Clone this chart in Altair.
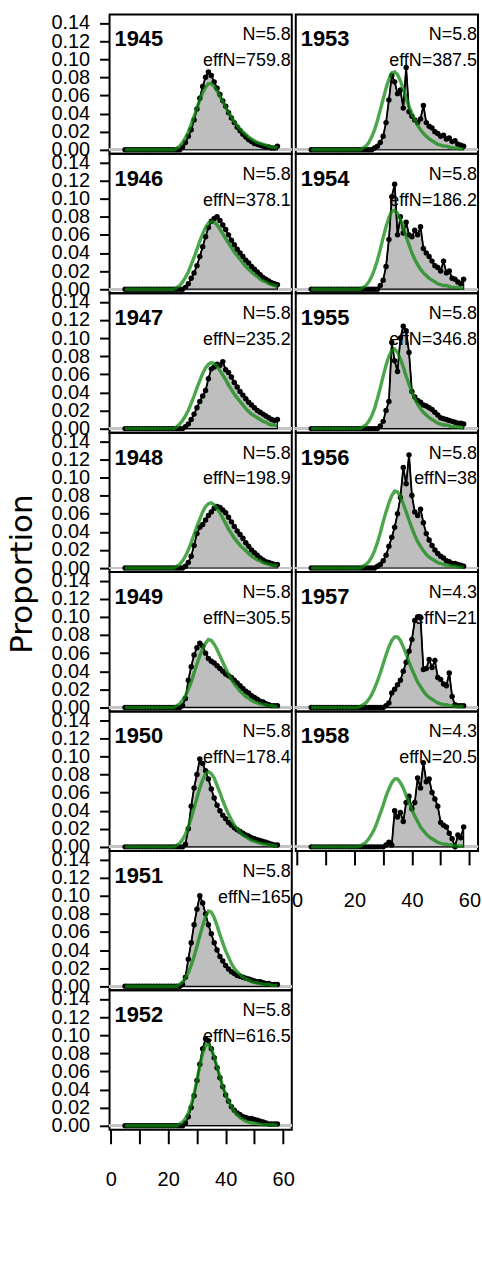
import altair as alt
import pandas as pd

# length bins (cm)
lengths = list(range(5, 59))

years_left = [1945, 1946, 1947, 1948, 1949, 1950, 1951, 1952]
years_right = [1953, 1954, 1955, 1956, 1957, 1958]
n_labels = {1945: "N=5.8", 1946: "N=5.8", 1947: "N=5.8", 1948: "N=5.8", 1949: "N=5.8",
            1950: "N=5.8", 1951: "N=5.8", 1952: "N=5.8", 1953: "N=5.8", 1954: "N=5.8",
            1955: "N=5.8", 1956: "N=5.8", 1957: "N=4.3", 1958: "N=4.3"}
effn_labels = {1945: "effN=759.8", 1946: "effN=378.1", 1947: "effN=235.2", 1948: "effN=198.9",
               1949: "effN=305.5", 1950: "effN=178.4", 1951: "effN=165", 1952: "effN=616.5",
               1953: "effN=387.5", 1954: "effN=186.2", 1955: "effN=346.8", 1956: "effN=38",
               1957: "effN=21", 1958: "effN=20.5"}
y_title = ["Proportion"]

# rows of 10 bins: 5-14, 15-24, 25-34, 35-44, 45-54, 55-58
obs_1945 = [0, 0, 0, 0, 0, 0, 0, 0, 0, 0,
            0, 0, 0, 0, 0, 0, 0, 0, 0, 0,
            .003, .008, .015, .022, .033, .045, .057, .070, .080, .086,
            .082, .075, .068, .061, .054, .048, .041, .035, .030, .025,
            .021, .017, .014, .011, .009, .007, .006, .005, .004, .003,
            .003, .002, .002, .004]
exp_1945 = [0, 0, 0, 0, 0, 0, 0, 0, 0, 0,
            0, 0, 0, 0, 0, 0, 0, 0, .002, .004,
            .008, .013, .020, .028, .037, .046, .055, .063, .069, .073,
            .073, .070, .065, .059, .053, .047, .041, .036, .031, .027,
            .023, .020, .017, .014, .012, .010, .008, .007, .006, .005,
            .004, .003, .003, .002]
obs_1946 = [0, 0, 0, 0, 0, 0, 0, 0, 0, 0,
            0, 0, 0, 0, 0, 0, 0, 0, 0, 0,
            0, .002, .006, .012, .018, .026, .036, .047, .058, .068,
            .075, .078, .080, .076, .071, .066, .060, .054, .049, .044,
            .040, .036, .032, .029, .025, .022, .019, .016, .013, .011,
            .009, .007, .006, .005]
exp_1946 = [0, 0, 0, 0, 0, 0, 0, 0, 0, 0,
            0, 0, 0, 0, 0, 0, 0, 0, .002, .004,
            .008, .013, .019, .027, .035, .044, .053, .061, .068, .073,
            .075, .074, .071, .066, .061, .056, .051, .046, .041, .037,
            .033, .029, .025, .022, .019, .016, .014, .011, .009, .008,
            .006, .005, .004, .003]
obs_1947 = [0, 0, 0, 0, 0, 0, 0, 0, 0, 0,
            0, 0, 0, 0, 0, 0, 0, 0, 0, 0,
            0, .002, .005, .010, .016, .023, .030, .036, .042, .055,
            .066, .068, .071, .070, .074, .065, .062, .057, .051, .046,
            .041, .037, .033, .029, .026, .023, .020, .018, .016, .014,
            .012, .010, .009, .010]
exp_1947 = [0, 0, 0, 0, 0, 0, 0, 0, 0, 0,
            0, 0, 0, 0, 0, 0, 0, 0, .002, .005,
            .009, .014, .020, .028, .036, .045, .053, .061, .067, .071,
            .073, .072, .069, .064, .059, .054, .048, .043, .038, .034,
            .030, .026, .022, .019, .016, .014, .012, .010, .008, .007,
            .005, .004, .004, .003]
obs_1948 = [0, 0, 0, 0, 0, 0, 0, 0, 0, 0,
            0, 0, 0, 0, 0, 0, 0, 0, 0, 0,
            0, .002, .006, .013, .025, .038, .045, .048, .053, .058,
            .062, .066, .068, .067, .064, .061, .056, .051, .046, .041,
            .037, .033, .028, .024, .020, .017, .014, .011, .009, .007,
            .006, .005, .004, .004]
exp_1948 = [0, 0, 0, 0, 0, 0, 0, 0, 0, 0,
            0, 0, 0, 0, 0, 0, 0, 0, .002, .004,
            .008, .013, .020, .028, .037, .046, .054, .062, .068, .071,
            .072, .070, .066, .061, .055, .049, .043, .038, .033, .029,
            .025, .022, .019, .016, .013, .011, .009, .008, .006, .005,
            .004, .003, .003, .002]
obs_1949 = [0, 0, 0, 0, 0, 0, 0, 0, 0, 0,
            0, 0, 0, 0, 0, 0, 0, 0, 0, 0,
            .002, .010, .030, .045, .058, .066, .071, .068, .060, .054,
            .051, .049, .046, .043, .040, .037, .035, .033, .030, .027,
            .024, .021, .018, .016, .013, .011, .009, .007, .006, .004,
            .003, .002, .002, .002]
exp_1949 = [0, 0, 0, 0, 0, 0, 0, 0, 0, 0,
            0, 0, 0, 0, 0, 0, 0, 0, .002, .004,
            .008, .013, .020, .028, .038, .048, .057, .065, .071, .075,
            .074, .070, .064, .057, .050, .043, .037, .031, .026, .022,
            .018, .015, .012, .010, .008, .006, .005, .004, .003, .003,
            .002, .002, .001, .001]
obs_1950 = [0, 0, 0, 0, 0, 0, 0, 0, 0, 0,
            0, 0, 0, 0, 0, 0, 0, 0, 0, 0,
            0, .003, .020, .045, .065, .080, .097, .092, .084, .075,
            .064, .054, .046, .040, .035, .031, .027, .024, .021, .019,
            .017, .015, .013, .012, .010, .009, .008, .007, .006, .005,
            .004, .003, .002, .002]
exp_1950 = [0, 0, 0, 0, 0, 0, 0, 0, 0, 0,
            0, 0, 0, 0, 0, 0, 0, 0, .002, .004,
            .008, .014, .022, .032, .043, .054, .065, .074, .081, .083,
            .081, .076, .068, .060, .051, .043, .036, .030, .024, .020,
            .016, .013, .011, .009, .007, .006, .005, .004, .003, .003,
            .002, .002, .001, .001]
obs_1951 = [0, 0, 0, 0, 0, 0, 0, 0, 0, 0,
            0, 0, 0, 0, 0, 0, 0, 0, 0, 0,
            .002, .010, .030, .048, .068, .085, .100, .092, .080, .068,
            .058, .048, .040, .033, .028, .023, .019, .016, .014, .012,
            .011, .010, .009, .008, .007, .006, .005, .005, .004, .003,
            .003, .002, .002, .002]
exp_1951 = [0, 0, 0, 0, 0, 0, 0, 0, 0, 0,
            0, 0, 0, 0, 0, 0, 0, 0, 0, .002,
            .005, .009, .015, .023, .033, .044, .056, .067, .077, .083,
            .082, .076, .067, .057, .048, .039, .032, .025, .020, .016,
            .013, .010, .008, .007, .005, .004, .004, .003, .002, .002,
            .002, .001, .001, .001]
obs_1952 = [0, 0, 0, 0, 0, 0, 0, 0, 0, 0,
            0, 0, 0, 0, 0, 0, 0, 0, 0, 0,
            0, .003, .010, .020, .033, .050, .068, .085, .096, .094,
            .085, .075, .064, .053, .043, .034, .027, .021, .017, .014,
            .012, .010, .009, .008, .008, .007, .006, .005, .004, .003,
            .002, .002, .002, .002]
exp_1952 = [0, 0, 0, 0, 0, 0, 0, 0, 0, 0,
            0, 0, 0, 0, 0, 0, 0, 0, 0, .002,
            .004, .008, .014, .023, .035, .050, .066, .080, .089, .090,
            .085, .076, .065, .054, .043, .034, .027, .021, .016, .012,
            .009, .007, .005, .004, .003, .003, .002, .002, .001, .001,
            .001, .001, .001, 0]
obs_1953 = [0, 0, 0, 0, 0, 0, 0, 0, 0, 0,
            0, 0, 0, 0, 0, 0, 0, 0, 0, 0,
            0, 0, .002, .004, .008, .015, .030, .055, .082, .075,
            .062, .066, .046, .091, .042, .037, .033, .030, .034, .049,
            .030, .026, .024, .020, .018, .015, .016, .012, .013, .009,
            .010, .006, .005, .004]
exp_1953 = [0, 0, 0, 0, 0, 0, 0, 0, 0, 0,
            0, 0, 0, 0, 0, 0, 0, 0, .002, .004,
            .008, .014, .022, .032, .044, .056, .068, .078, .085, .086,
            .083, .076, .067, .057, .048, .040, .033, .027, .022, .018,
            .015, .012, .010, .008, .006, .005, .004, .004, .003, .002,
            .002, .002, .001, .001]
obs_1954 = [0, 0, 0, 0, 0, 0, 0, 0, 0, 0,
            0, 0, 0, 0, 0, 0, 0, 0, 0, 0,
            0, 0, 0, 0, .004, .010, .025, .055, .102, .116,
            .060, .080, .062, .074, .060, .058, .065, .060, .069, .045,
            .040, .036, .031, .026, .024, .020, .031, .018, .020, .012,
            .011, .008, .006, .011]
exp_1954 = [0, 0, 0, 0, 0, 0, 0, 0, 0, 0,
            0, 0, 0, 0, 0, 0, 0, 0, .002, .004,
            .008, .014, .022, .032, .044, .057, .069, .079, .086, .087,
            .084, .077, .068, .058, .049, .040, .033, .027, .022, .018,
            .015, .012, .010, .008, .006, .005, .004, .004, .003, .002,
            .002, .002, .001, .001]
obs_1955 = [0, 0, 0, 0, 0, 0, 0, 0, 0, 0,
            0, 0, 0, 0, 0, 0, 0, 0, 0, 0,
            0, 0, 0, 0, .003, .008, .020, .030, .095, .075,
            .063, .100, .113, .108, .084, .041, .035, .031, .029, .026,
            .025, .023, .021, .018, .015, .012, .011, .010, .009, .008,
            .007, .006, .006, .005]
exp_1955 = [0, 0, 0, 0, 0, 0, 0, 0, 0, 0,
            0, 0, 0, 0, 0, 0, 0, 0, .002, .004,
            .008, .014, .022, .033, .045, .058, .070, .080, .086, .088,
            .084, .077, .068, .058, .049, .040, .033, .027, .022, .018,
            .015, .012, .010, .008, .006, .005, .004, .004, .003, .002,
            .002, .002, .001, .001]
obs_1956 = [0, 0, 0, 0, 0, 0, 0, 0, 0, 0,
            0, 0, 0, 0, 0, 0, 0, 0, 0, 0,
            0, 0, 0, .002, .004, .008, .014, .024, .034, .045,
            .060, .078, .111, .093, .125, .080, .062, .058, .065, .050,
            .038, .031, .025, .020, .016, .013, .011, .008, .007, .005,
            .005, .004, .003, .002]
exp_1956 = [0, 0, 0, 0, 0, 0, 0, 0, 0, 0,
            0, 0, 0, 0, 0, 0, 0, 0, .002, .004,
            .007, .012, .019, .028, .039, .051, .062, .072, .080, .085,
            .084, .079, .071, .062, .053, .044, .036, .029, .024, .019,
            .015, .012, .010, .008, .006, .005, .004, .003, .003, .002,
            .002, .001, .001, .001]
obs_1957 = [0, 0, 0, 0, 0, 0, 0, 0, 0, 0,
            0, 0, 0, 0, 0, 0, 0, 0, 0, 0,
            0, 0, 0, 0, 0, 0, .002, .005, .016, .020,
            .025, .030, .040, .050, .062, .075, .096, .100, .099, .042,
            .043, .053, .044, .052, .033, .031, .026, .024, .038, .012,
            .003, .002, .002, .002]
exp_1957 = [0, 0, 0, 0, 0, 0, 0, 0, 0, 0,
            0, 0, 0, 0, 0, 0, 0, .001, .003, .005,
            .009, .014, .021, .029, .038, .048, .058, .067, .074, .078,
            .078, .074, .067, .059, .050, .042, .035, .028, .023, .018,
            .014, .011, .009, .007, .005, .004, .003, .003, .002, .002,
            .001, .001, .001, .001]
obs_1958 = [0, 0, 0, 0, 0, 0, 0, 0, 0, 0,
            0, 0, 0, 0, 0, 0, 0, 0, 0, 0,
            0, 0, 0, 0, 0, 0, .002, .005, .002, .040,
            .033, .038, .028, .049, .056, .042, .049, .076, .065, .093,
            .072, .075, .060, .053, .045, .027, .024, .022, .015, .009,
            .000, .013, .010, .022]
exp_1958 = [0, 0, 0, 0, 0, 0, 0, 0, 0, 0,
            0, 0, 0, 0, 0, 0, 0, .001, .003, .005,
            .009, .014, .020, .028, .037, .046, .056, .064, .071, .075,
            .075, .071, .065, .057, .049, .041, .034, .028, .022, .018,
            .014, .011, .009, .007, .005, .004, .003, .003, .002, .002,
            .001, .001, .001, .001]

observed = {1945: obs_1945, 1946: obs_1946, 1947: obs_1947, 1948: obs_1948,
            1949: obs_1949, 1950: obs_1950, 1951: obs_1951, 1952: obs_1952,
            1953: obs_1953, 1954: obs_1954, 1955: obs_1955, 1956: obs_1956,
            1957: obs_1957, 1958: obs_1958}
expected = {1945: exp_1945, 1946: exp_1946, 1947: exp_1947, 1948: exp_1948,
            1949: exp_1949, 1950: exp_1950, 1951: exp_1951, 1952: exp_1952,
            1953: exp_1953, 1954: exp_1954, 1955: exp_1955, 1956: exp_1956,
            1957: exp_1957, 1958: exp_1958}

y_ticks = [0.0, 0.02, 0.04, 0.06, 0.08, 0.10, 0.12, 0.14]
x_ticks = [0, 10, 20, 30, 40, 50, 60]

W, H = 183, 140
FONT = "Liberation Sans"
GREEN = "#108810"
FILL = "#bebebe"

xscale = alt.Scale(domain=[-0.4, 63], nice=False, zero=False)
yscale = alt.Scale(domain=[-0.0045, 0.1495], nice=False, zero=False)

xaxis = alt.Axis(values=x_ticks, labelExpr="datum.value % 20 == 0 ? datum.label : ''",
                 tickSize=14, tickWidth=2, tickColor="black", domain=False, grid=False,
                 labelPadding=26, labelFontSize=20, labelFont=FONT, labelColor="black",
                 labelFlush=False, labelOverlap=False, title=None)
yaxis = alt.Axis(values=y_ticks, format=".2f", tickSize=10, tickWidth=2, tickColor="black",
                 domain=False, grid=False, labelPadding=10, labelFontSize=20, labelFont=FONT,
                 labelColor="black", labelOverlap=False, labelFlush=False, title=None)


def panel(year, left, bottom):
    df = pd.DataFrame({"len": lengths, "obs": observed[year], "exp": expected[year]})
    xa = xaxis if bottom else None
    ya = yaxis if left else None

    def X():
        return alt.X("len:Q", scale=xscale, axis=xa, title=None)

    base = alt.Chart(df)
    area = base.mark_area(color=FILL, stroke="black", strokeWidth=1.2).encode(
        x=X(), y=alt.Y("obs:Q", scale=yscale, axis=ya, title=None))
    zero = base.mark_rule(color="#c4c4c4", strokeWidth=2).encode(
        y=alt.Y(datum=0, type="quantitative", scale=yscale, axis=ya, title=None))
    oline = base.mark_line(color="black", strokeWidth=1.8).encode(
        x=X(), y=alt.Y("obs:Q", scale=yscale, axis=ya, title=None))
    opts = base.mark_circle(color="black", size=30, opacity=1).encode(
        x=X(), y=alt.Y("obs:Q", scale=yscale, axis=ya, title=None))
    eline = base.mark_line(color=GREEN, strokeWidth=3.4, opacity=0.75).encode(
        x=X(), y=alt.Y("exp:Q", scale=yscale, axis=ya, title=None))

    lab = pd.DataFrame({"year": [str(year)], "n": [n_labels[year]], "eff": [effn_labels[year]]})
    tb = alt.Chart(lab)
    t_year = tb.mark_text(align="left", baseline="alphabetic", fontSize=22, fontWeight="bold",
                          font=FONT, color="black").encode(
        x=alt.value(5), y=alt.value(32), text="year:N")
    t_n = tb.mark_text(align="right", baseline="alphabetic", fontSize=18, font=FONT,
                       color="black").encode(x=alt.value(W - 1), y=alt.value(26), text="n:N")
    t_eff = tb.mark_text(align="right", baseline="alphabetic", fontSize=18, font=FONT,
                         color="black").encode(x=alt.value(W - 1), y=alt.value(52), text="eff:N")

    return alt.layer(zero, area, oline, opts, eline, t_year, t_n, t_eff).properties(
        width=W, height=H)


left_col = alt.vconcat(*[panel(y, True, i == len(years_left) - 1)
                         for i, y in enumerate(years_left)], spacing=0, bounds="flush")
right_col = alt.vconcat(*[panel(y, False, i == len(years_right) - 1)
                          for i, y in enumerate(years_right)], spacing=0, bounds="flush")
panels = alt.hconcat(left_col, right_col, spacing=-12)

title_chart = alt.Chart(pd.DataFrame({"t": y_title})).mark_text(
    angle=270, align="center", baseline="middle", fontSize=31, font="DejaVu Sans",
    color="black").encode(x=alt.value(23), y=alt.value(562), text="t:N").properties(
    width=50, height=8 * H, view=alt.ViewBackground(stroke="transparent", strokeWidth=0))

chart = alt.hconcat(title_chart, panels, spacing=0).properties(
    padding={"left": 0, "top": 9, "right": 0, "bottom": 0},
).configure_view(stroke="black", strokeWidth=2)

chart.save("out.html", embed_options={"renderer": "svg", "actions": False})
